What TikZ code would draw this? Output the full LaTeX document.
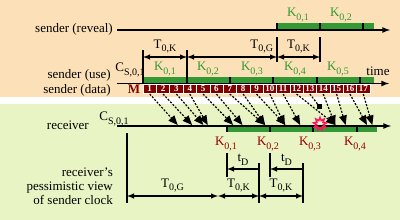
\documentclass[tikz,border=0pt]{standalone}
\usepackage{fontspec}
\setmainfont{Liberation Serif}
\usetikzlibrary{arrows}
\usetikzlibrary{shapes.geometric}
\usetikzlibrary{calc}
\definecolor{bgorange}{RGB}{252,225,184}
\definecolor{bggreen}{RGB}{233,244,196}
\definecolor{keygreen}{RGB}{51,153,51}
\definecolor{pktred}{RGB}{128,0,0}
\definecolor{keyred}{RGB}{153,0,0}
\definecolor{burst}{RGB}{255,20,100}

% label with a low subscript
\newcommand{\lowsub}[2]{#1\raisebox{-3.5pt}{\fontsize{10}{10}\selectfont #2}}

\begin{document}
\begin{tikzpicture}[x=1pt, y=-1pt, >=latex,
  lbl/.style={font=\fontsize{13}{14}\selectfont, inner sep=0pt},
  keylbl/.style={font=\fontsize{13}{14}\selectfont, inner sep=0pt},
  timeline/.style={line width=1.6pt, ->},
  divider/.style={line width=1.4pt},
  vline/.style={line width=1.6pt},
  dimline/.style={line width=1.4pt},
  pkt/.style={fill=pktred, draw=white, line width=0.5pt},
  pktnum/.style={text=white, font=\fontsize{9}{9}\selectfont\bfseries, inner sep=0pt},
  flight/.style={line width=1.2pt, dash pattern=on 2pt off 1.5pt, -triangle 45}]

%---------------------------------------
% Background bands
%---------------------------------------
\fill[bgorange] (0,0) rectangle (400,97);
\fill[white] (0,97) rectangle (400,104);
\fill[bggreen] (0,104) rectangle (400,220);
\useasboundingbox (0,0) rectangle (400,220);

% Row labels
\node[lbl, anchor=east] (lreveal) at (113,29) {sender (reveal)};
\node[lbl, anchor=east] (luse) at (111,75) {sender (use)};
\node[lbl, anchor=east] (ldata) at (111,90) {sender (data)};
\node[lbl, anchor=east] (lrecv) at (89,125) {receiver};
\node[lbl, anchor=east, align=right] (lview) at (113,186)
     {receiver's\\pessimistic view\\of sender clock};

%====================================================
% SENDER (REVEAL)
%====================================================
\fill[keygreen] (277,23) rectangle (374,30);
\foreach \x in {277,320,363}
  \draw[divider] (\x,23) -- (\x,30);
\coordinate (rvstart) at (117,30);
\coordinate (rvend) at (390,30);
\draw[timeline] (rvstart) -- (rvend);
\node[keylbl, text=keygreen] (rk1) at (298,15) {\lowsub{K}{0,1}};
\node[keylbl, text=keygreen] (rk2) at (341,15) {\lowsub{K}{0,2}};

%====================================================
% SENDER (USE) and SENDER (DATA)
%====================================================
\fill[keygreen] (143,77) rectangle (374,83.5);
\foreach \x in {143,187,230,273,317,360}
  \draw[divider] (\x,77) -- (\x,83.5);
\coordinate (usestart) at (117,83.5);
\coordinate (useend) at (389,83.5);
\draw[timeline] (usestart) -- (useend);
\node[lbl] (ltime) at (378,71) {time};
\node[lbl] (cs1) at (130,70) {\lowsub{C}{S,0,1}};

\foreach \k/\x in {1/165,2/208,3/252,4/295,5/338}
  \node[keylbl, text=keygreen] (uk\k) at (\x,69) {\lowsub{K}{0,\k}};

% data packets
\node[text=pktred, font=\fontsize{13}{13}\selectfont\bfseries, inner sep=0pt]
     (mac) at (134,89) {M};
\foreach \i in {1,...,17} {
  \pgfmathsetmacro{\xl}{143+(\i-1)*13.35}
  \draw[pkt] (\xl,84) rectangle (\xl+13.35,93.5);
  \node[pktnum] (p\i) at (\xl+6.7,89) {\i};
}

%====================================================
% RECEIVER
%====================================================
\fill[keygreen] (227,126) rectangle (377,132);
\foreach \x in {227,270,313,357}
  \draw[divider] (\x,126) -- (\x,132);
\coordinate (rcstart) at (117,126);
\coordinate (rcend) at (391,126);
\draw[timeline] (rcstart) -- (rcend);
\node[lbl] (cs2) at (114,119) {\lowsub{C}{S,0,1}};

\foreach \k/\x in {1/226,2/268,3/310,4/355}
  \node[keylbl, text=keyred] (rck\k) at (\x,144) {\lowsub{K}{0,\k}};

% packets in flight (13 is lost)
\foreach \i/\d in {1/28,2/29,3/27,4/18,5/30,6/26,7/35,8/22,9/29,10/15,11/17,12/39,14/12,15/9,16/17,17/9}
  \draw[flight] ($(p\i)+(0,5)$) -- ++(\d,31);
\draw[line width=1.2pt, dash pattern=on 2pt off 1.5pt] ($(p13)+(0,5)$) -- (319,106);
\fill (316.5,104) rectangle (321.5,109);
\node[star, star points=9, star point ratio=1.8, minimum size=13pt, inner sep=0pt,
      draw=burst, line width=1.5pt] (lost) at (320,124) {};

%====================================================
% TOP DIMENSIONS
%====================================================
\draw[vline] (143,50) -- (143,83);
\draw[vline] (187,50) -- (187,77);
\draw[vline] (277,37) -- (277,62);
\draw[vline] (320,37) -- (320,62);
\draw[dimline, <->] (143,57) -- (187,57) node[midway, above=3pt, lbl] {\lowsub{T}{0,K}};
\draw[dimline, <->] (187,57) -- (277,57) node[pos=0.83, above=3pt, lbl] {\lowsub{T}{0,G}};
\draw[dimline, <->] (277,57) -- (320,57) node[midway, above=3pt, lbl] {\lowsub{T}{0,K}};

%====================================================
% BOTTOM DIMENSIONS
%====================================================
\draw[vline] (127,133) -- (127,203);
\draw[vline] (259,163) -- (259,203);
\draw[vline] (303,163) -- (303,203);
\draw[vline] (227,153) -- (227,177);
\draw[vline] (270,153) -- (270,177);
\draw[dimline, ->] (259,169) -- (227,169) node[midway, above=3pt, lbl] {\lowsub{t}{D}};
\draw[dimline, ->] (303,169) -- (270,169) node[midway, above=3pt, lbl] {\lowsub{t}{D}};
\draw[dimline, <->] (127,196) -- (218,196) node[midway, above=3pt, lbl] {\lowsub{T}{0,G}};
\draw[dimline, <->] (218,196) -- (259,196) node[midway, above=3pt, lbl] {\lowsub{T}{0,K}};
\draw[dimline, <->] (259,196) -- (303,196) node[midway, above=3pt, lbl] {\lowsub{T}{0,K}};

\end{tikzpicture}
\end{document}
